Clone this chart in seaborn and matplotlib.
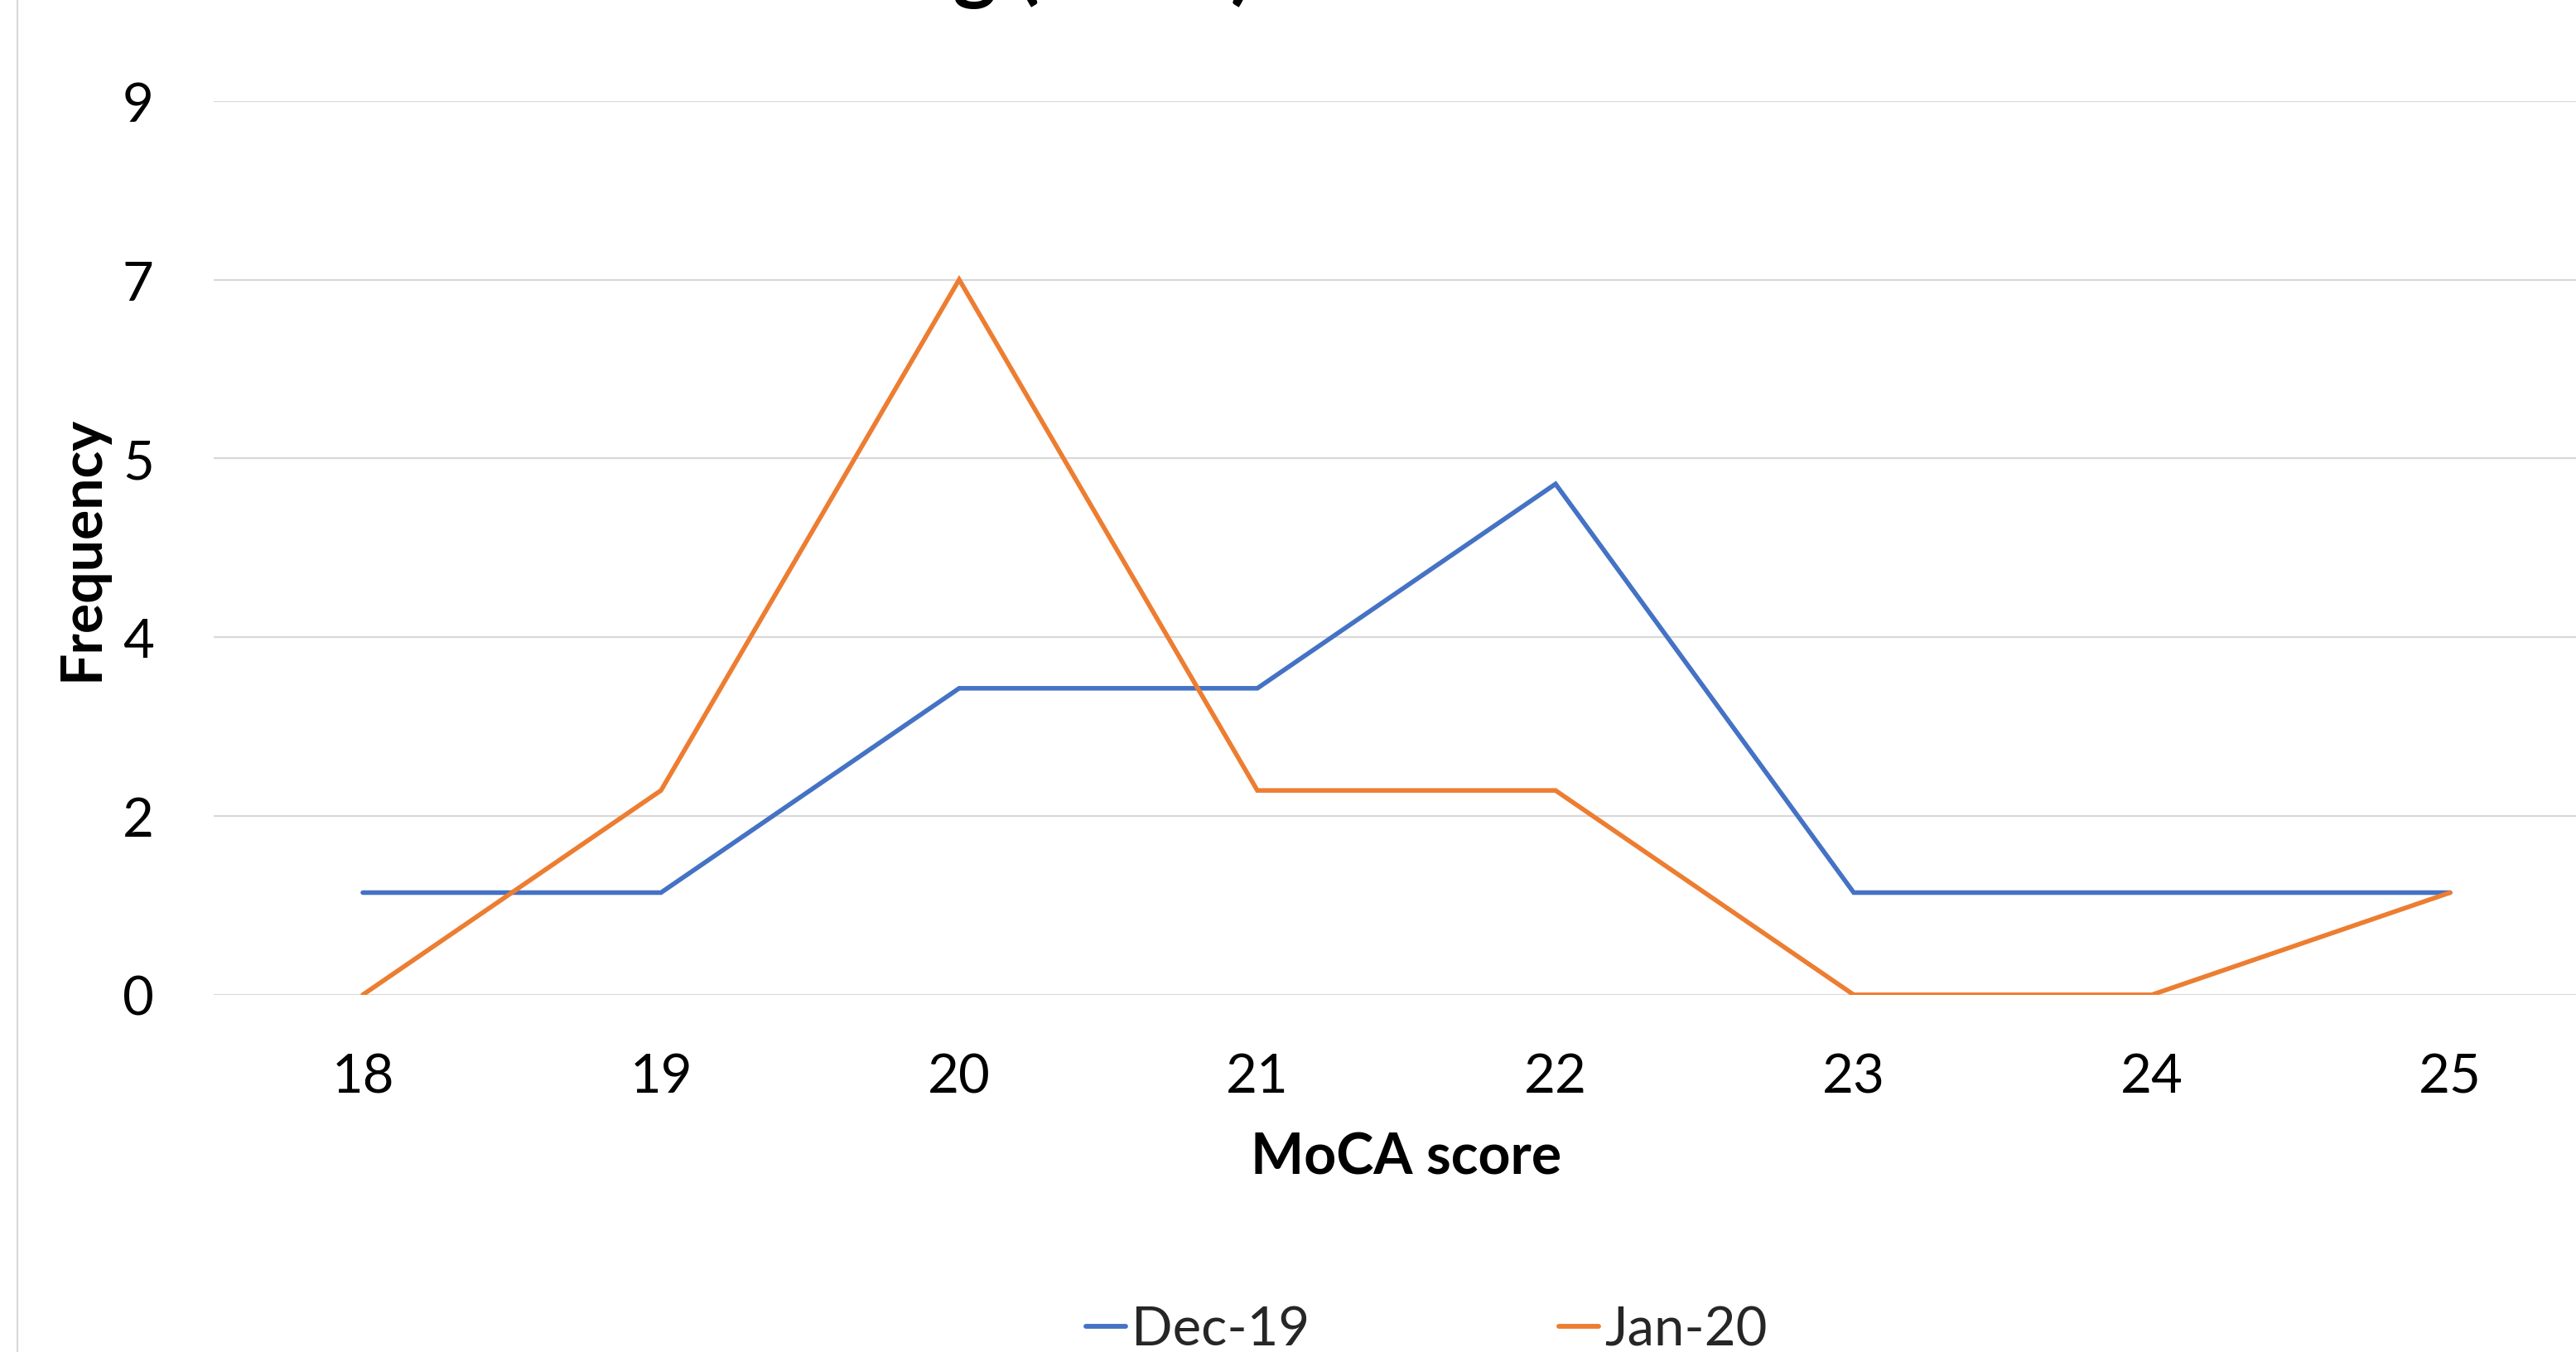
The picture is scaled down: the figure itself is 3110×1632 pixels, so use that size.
import matplotlib
matplotlib.use("Agg")
import matplotlib.pyplot as plt
from matplotlib.lines import Line2D
from matplotlib.patches import Rectangle
import seaborn as sns
import pandas as pd

# MoCA score frequencies for the two assessment months
scores = [18, 19, 20, 21, 22, 23, 24, 25]
dec_19 = [1, 1, 3, 3, 5, 1, 1, 1]
jan_20 = [0, 2, 7, 2, 2, 0, 0, 1]
series_names = ["Dec-19", "Jan-20"]
series_colors = ["#4472C4", "#ED7D31"]

# value axis: 0 to 8.75 in steps of 1.75, shown with no decimals
y_ticks = [0, 1.75, 3.5, 5.25, 7, 8.75]
y_tick_labels = ["0", "2", "4", "5", "7", "9"]

title_text = "MoCA Scoring (n=30)"
x_label = "MoCA score"
y_label = "Frequency"

df = pd.DataFrame({
    "score": scores * 2,
    "frequency": dec_19 + jan_20,
    "month": [series_names[0]] * len(scores) + [series_names[1]] * len(scores),
})

sns.set_theme(style="white")
plt.rcParams["font.family"] = ["Lato", "DejaVu Sans"]

W, H, DPI = 3110, 1633, 100
fig = plt.figure(figsize=(W / DPI, H / DPI), dpi=DPI)
fig.patch.set_facecolor("white")

# plot area in pixels: x 258..3138 (runs past the right edge), y 122.7..1201.8
ax = fig.add_axes([258 / W, (H - 1201.8) / H, (3138 - 258) / W, (1201.8 - 122.7) / H])
ax.set_facecolor("white")

sns.lineplot(
    data=df, x="score", y="frequency", hue="month",
    hue_order=series_names, palette=series_colors,
    ax=ax, legend=False, sort=False,
)
for ln in ax.lines:
    ln.set_linewidth(4.0)
    ln.set_solid_capstyle("round")
    ln.set_solid_joinstyle("miter")

ax.set_xlim(scores[0] - 0.5, scores[-1] + 0.5)
ax.set_ylim(y_ticks[0], y_ticks[-1])
ax.set_xticks(scores)
ax.set_xticklabels([str(s) for s in scores])
ax.set_yticks(y_ticks)
ax.set_yticklabels(y_tick_labels)

ax.grid(axis="y", color="#D9D9D9", linewidth=1.6)
ax.grid(axis="x", visible=False)
ax.set_axisbelow(True)
for side in ["top", "right", "left", "bottom"]:
    ax.spines[side].set_visible(False)

ax.tick_params(axis="both", length=0, labelsize=47, labelcolor="black")
ax.tick_params(axis="x", pad=50)
ax.tick_params(axis="y", pad=52)

ax.set_xlabel(x_label, fontsize=49, fontweight="bold", color="black", va="center")
ax.xaxis.set_label_coords(0.5, -(1398 - 1201.8) / (1201.8 - 122.7))
ax.set_ylabel(y_label, fontsize=49, fontweight="bold", color="black", va="center")
ax.yaxis.set_label_coords(-(258 - 99) / (3138 - 258), 0.5)

# legend below the plot
handles = [
    Line2D([], [], color=c, linewidth=4.2, solid_capstyle="round")
    for c in series_colors
]
fig.legend(
    handles, series_names, loc="center", ncol=2, frameon=False,
    bbox_to_anchor=(1722 / W, (H - 1606) / H), bbox_transform=fig.transFigure,
    fontsize=47, handlelength=0.75, handletextpad=0.1, columnspacing=4.6,
)

# chart title sitting mostly above the top edge
fig.text(1036 / W, 1 + 7 / H, title_text, ha="center", va="baseline",
         fontsize=72, fontweight="bold", color="black")

# chart area border on the left
fig.patches.append(Rectangle((21 / W, -0.1), 2.0, 1.2, transform=fig.transFigure,
                             fill=False, edgecolor="#D9D9D9", linewidth=1.6))

fig.savefig("out.png", dpi=DPI, facecolor="white")
